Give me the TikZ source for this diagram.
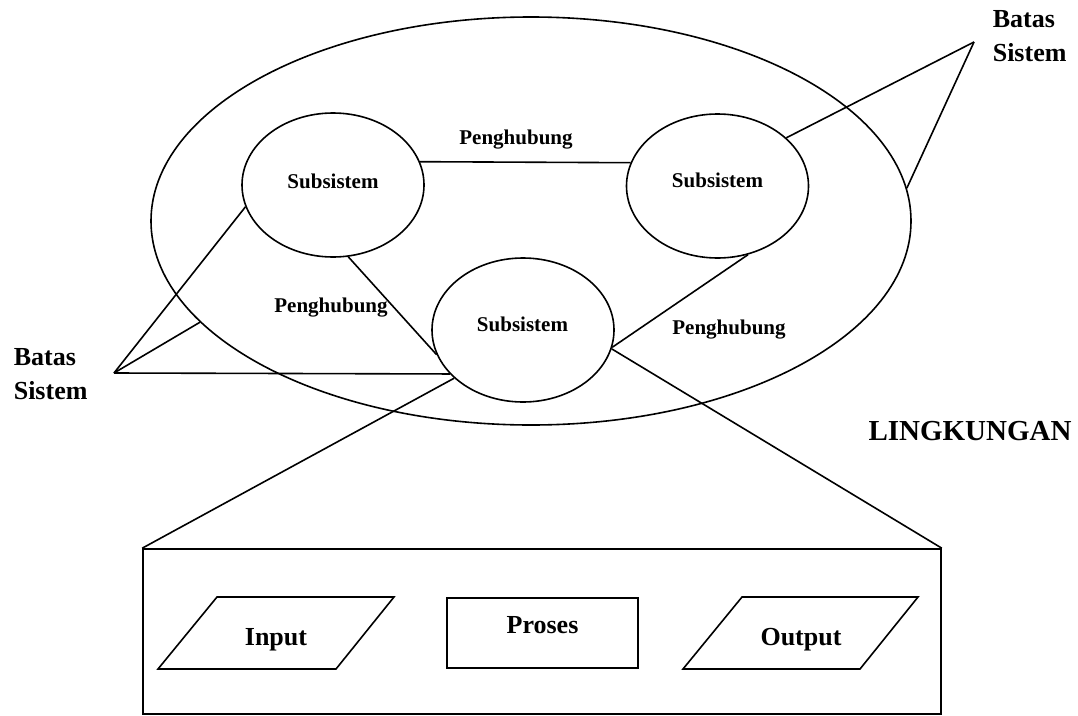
\documentclass[tikz,border=0pt]{standalone}
\usepackage{fontspec}
\setmainfont{Liberation Serif}
\usetikzlibrary{shapes.geometric}

\begin{document}
\begin{tikzpicture}[x=1pt,y=-1pt,line width=1.6pt,
  sub/.style={draw,ellipse,inner sep=0pt,minimum width=182pt,minimum height=144pt},
  lbl/.style={anchor=base,inner sep=0pt,font=\fontsize{21}{25}\selectfont\bfseries},
  batas/.style={anchor=north west,align=left,inner sep=0pt,font=\fontsize{26}{34}\selectfont\bfseries},
  io/.style={anchor=base,inner sep=0pt,font=\fontsize{26}{30}\selectfont\bfseries}]
\useasboundingbox (0,0) rectangle (1078,715);

% sistem dengan tiga subsistem
\node[draw,ellipse,inner sep=0pt,minimum width=760pt,minimum height=408pt] (sys) at (531,221) {};
\node[sub] (subL) at (333,185) {};
\node[sub] (subR) at (717.5,186) {};
\node[sub] (subB) at (523,330) {};
\node[lbl] (tL) at (333,188) {Subsistem};
\node[lbl] (tR) at (717.5,187) {Subsistem};
\node[lbl] (tB) at (522.5,331) {Subsistem};

% penghubung
\draw (subL.15) -- (subR.165);
\draw (subL.282) -- (subB.196);
\draw (subR.294) -- (subB.349);
\node[lbl] (hubT) at (516,144) {Penghubung};
\node[lbl] (hubL) at (331,312) {Penghubung};
\node[lbl] (hubR) at (729,334) {Penghubung};

% batas sistem
\node[batas] (batasL) at (13,348) {Batas\\Sistem};
\node[batas] (batasR) at (992,10) {Batas\\Sistem};
\coordinate (apexL) at (114,373);
\coordinate (apexR) at (974,42);
\draw (apexL) -- (subL.194);
\draw (apexL) -- (sys.197);
\draw (apexL) -- (subB.211);
\draw (apexR) -- (subR.35);
\draw (apexR) -- (sys.5);

\node[anchor=base,inner sep=0pt,font=\fontsize{29}{34}\selectfont\bfseries] (lingk) at (970,440) {LINGKUNGAN};

% isi subsistem
\node[draw,inner sep=0pt,minimum width=798pt,minimum height=165pt] (box) at (542,631.5) {};
\draw (subB.215) -- (box.north west);
\draw (subB.348) -- (box.north east);
\draw (217,597) -- (394,597) -- (336,669) -- (158,669) -- cycle;
\draw (447,598) rectangle (638,668);
\draw (742,597) -- (918,597) -- (860,669) -- (683,669) -- cycle;
\node[io] (inp) at (276,645) {Input};
\node[io] (pros) at (542.5,633) {Proses};
\node[io] (outp) at (801,645) {Output};
\end{tikzpicture}
\end{document}
